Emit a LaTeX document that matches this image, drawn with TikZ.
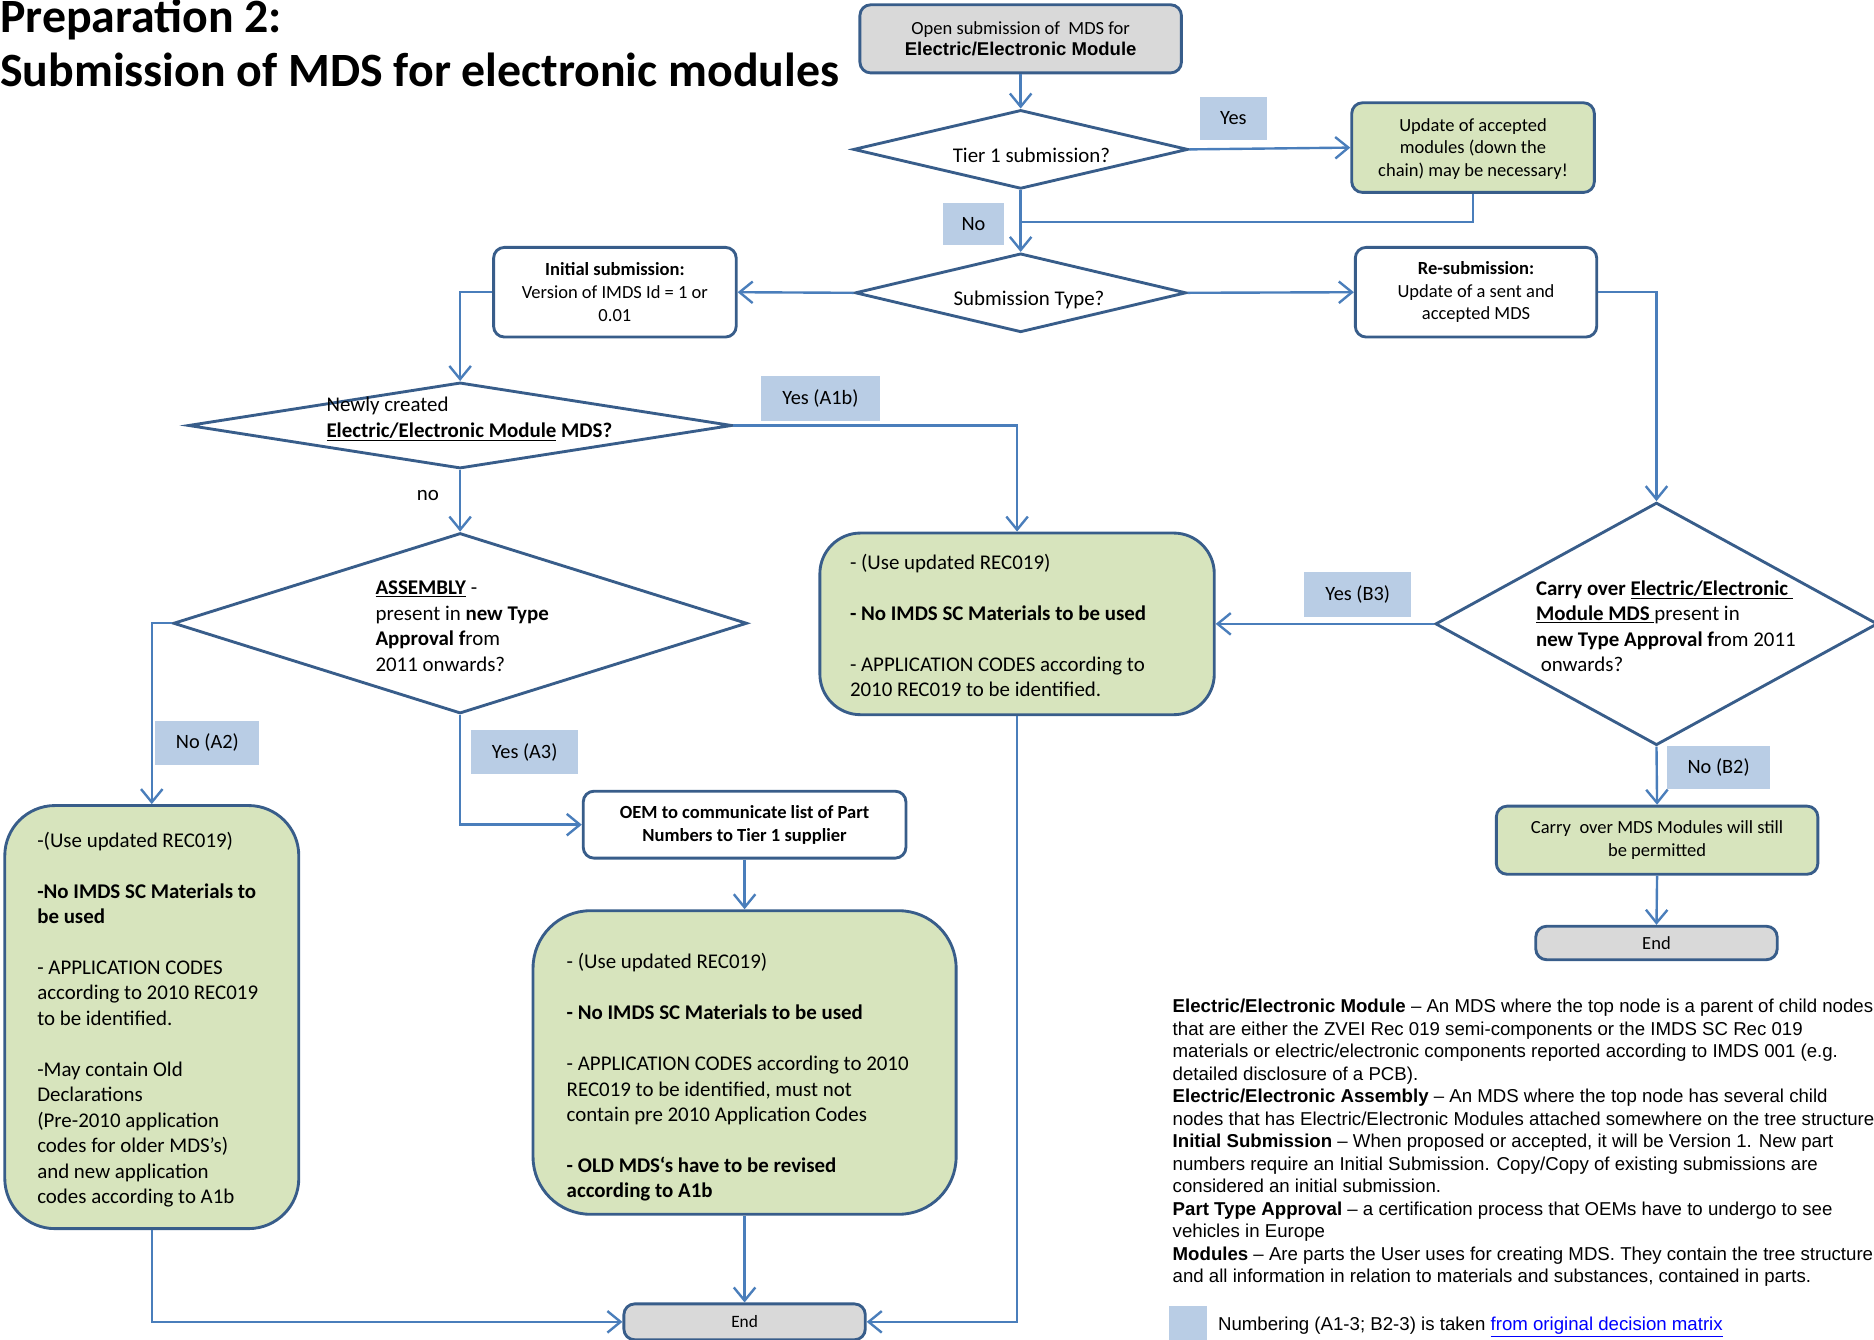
\documentclass[tikz,border=0pt]{standalone}
\usepackage{fontspec}
\setmainfont{Carlito}
\newfontfamily\arialfont{Liberation Sans}
\usetikzlibrary{arrows.meta,shapes.geometric}
\definecolor{linec}{HTML}{4A7EBB}
\definecolor{borderc}{HTML}{385D8A}
\definecolor{greenf}{HTML}{D7E4BD}
\definecolor{grayf}{HTML}{D9D9D9}
\definecolor{labelf}{HTML}{B9CDE5}
\definecolor{linkc}{HTML}{0000FF}
\tikzset{
 conn/.style={draw=linec, line width=2pt, -{Straight Barb[length=11pt,width=18pt,line width=2pt]}},
 cline/.style={draw=linec, line width=2pt},
 rbox/.style={rectangle, rounded corners=9pt, draw=borderc, line width=2.4pt, fill=white, inner sep=0pt, align=center, font=\fontsize{15.5}{19}\selectfont},
 greenbox/.style={rbox, fill=greenf},
 graybox/.style={rbox, fill=grayf},
 decision/.style={diamond, draw=borderc, line width=2.4pt, fill=white, inner sep=0pt},
 lab/.style={rectangle, fill=labelf, inner sep=0pt, font=\fontsize{17}{20}\selectfont},
 txt/.style={inner sep=0pt, align=left, font=\fontsize{17.5}{21.3}\selectfont},
}
\begin{document}
\begin{tikzpicture}[x=1pt,y=-1pt]
\useasboundingbox (0,0) rectangle (1568,1121);

% title
\node[anchor=base west, inner sep=0pt, font=\fontsize{40}{48}\selectfont\bfseries] (title1) at (0,27) {Preparation 2:};
\node[anchor=base west, inner sep=0pt, font=\fontsize{40}{48}\selectfont\bfseries] (title2) at (0,72) {Submission of MDS for electronic modules};

% boxes
\node[graybox, minimum width=269pt, minimum height=57pt] (start) at (854,32.5) {Open submission of\ \ MDS for\\[-1pt]{\arialfont\bfseries Electric/Electronic Module}};
\node[decision, minimum width=280pt, minimum height=66pt] (d1) at (854,125) {};
\node[txt] (t1) at (863,130) {Tier 1 submission?};
\node[greenbox, minimum width=203pt, minimum height=75pt] (upd) at (1232.5,123.5) {\\[-6pt]Update of accepted\\modules (down the\\chain) may be necessary!};
\node[decision, minimum width=277pt, minimum height=66pt] (d2) at (854,245) {};
\node[txt] (t2) at (861,251) {Submission Type?};
\node[rbox, minimum width=203pt, minimum height=75pt] (init) at (514.5,244.5) {\textbf{Initial submission:}\\Version of IMDS Id = 1 or\\0.01};
\node[rbox, minimum width=202pt, minimum height=75pt] (resub) at (1235,244.5) {\textbf{Re-submission:}\\Update of a sent and\\accepted MDS};

\node[decision, minimum width=455pt, minimum height=72pt] (d3) at (385,356) {};
\node[txt, anchor=west] (t3) at (273,350.5) {Newly created\\\textbf{\underline{Electric/Electronic Module}~MDS?}};
\node[decision, minimum width=480pt, minimum height=151pt] (d4) at (385,521.5) {};
\node[txt, anchor=west] (t4) at (314,524) {\textbf{\underline{ASSEMBLY}} -\\present in \textbf{new Type}\\\textbf{Approval f}rom\\2011 onwards?};

\node[greenbox, rounded corners=34pt, minimum width=330pt, minimum height=152pt] (a1b) at (851,522) {};
\node[txt, anchor=west] (a1bt) at (711,523.5) {- (Use updated REC019)\\[21.3pt]\textbf{- No IMDS SC Materials to be used}\\[21.3pt]- APPLICATION CODES according to\\2010 REC019 to be identified.};

\node[decision, minimum width=370pt, minimum height=203pt] (d5) at (1386,522) {};
\node[txt, anchor=west] (t5) at (1285,524) {\textbf{Carry over \underline{Electric/Electronic\ }}\\\textbf{\underline{Module MDS\ }}present in\\\textbf{new Type Approval f}rom 2011\\\ onwards?};

\node[greenbox, minimum width=269pt, minimum height=57pt] (carry) at (1386.5,703) {Carry\ \ over MDS Modules will still\\be permitted};
\node[graybox, minimum width=202pt, minimum height=28pt] (end2) at (1386,789) {End};

\node[rbox, minimum width=270pt, minimum height=56pt, font=\fontsize{15.5}{19}\selectfont\bfseries] (oem) at (623,690) {OEM to communicate list of Part\\Numbers to Tier 1 supplier};

\node[greenbox, rounded corners=42pt, minimum width=246pt, minimum height=354pt] (a2) at (127,851) {};
\node[txt, anchor=west] (a2t) at (31,853) {-(Use updated REC019)\\[21.3pt]\textbf{-No IMDS SC Materials to}\\\textbf{be used}\\[21.3pt]- APPLICATION CODES\\according to 2010 REC019\\to be identified.\\[21.3pt]-May contain Old\\Declarations\\(Pre-2010 application\\codes for older MDS's)\\and new application\\codes according to A1b};

\node[greenbox, rounded corners=48pt, minimum width=354pt, minimum height=254pt] (a3) at (623,889) {};
\node[txt, anchor=west] (a3t) at (474,901.5) {- (Use updated REC019)\\[21.3pt]\textbf{- No IMDS SC Materials to be used}\\[21.3pt]- APPLICATION CODES according to 2010\\REC019 to be identified, must not\\contain pre 2010 Application Codes\\[21.3pt]\textbf{- OLD MDS‘s have to be revised}\\\textbf{according to A1b}};

\node[graybox, minimum width=202pt, minimum height=30pt, font=\fontsize{14.5}{17}\selectfont] (end1) at (623,1106) {End};

% connectors
\coordinate (j1) at (854,186);
\draw[conn] (start.south) -- (d1.north);
\draw[conn] (d1.east) -- (upd.west);
\draw[conn] (d1.south) -- (d2.north);
\draw[cline] (upd.south) |- (j1);
\draw[conn] (d2.west) -- (init.east);
\draw[conn] (d2.east) -- (resub.west);
\draw[conn] (init.west) -| (d3.north);
\draw[conn] (d3.east) -| (a1b.north);
\draw[conn] (d3.south) -- (d4.north);
\draw[conn] (d4.west) -| (a2.north);
\draw[conn] (d4.south) |- (oem.west);
\draw[conn] (oem.south) -- (a3.north);
\draw[conn] (a3.south) -- (end1.north);
\draw[conn] (a2.south) |- (end1.west);
\draw[conn] (a1b.south) |- (end1.east);
\draw[conn] (resub.east) -| (d5.north);
\draw[conn] (d5.west) -- (a1b.east);
\draw[conn] (d5.south) -- (carry.north);
\draw[conn] (carry.south) -- (end2.north);

% labels
\node[lab, minimum width=56pt, minimum height=36pt] (lyes1) at (1032,99) {Yes};
\node[lab, minimum width=51pt, minimum height=35pt] (lno1) at (814.5,187.5) {No};
\node[lab, minimum width=99pt, minimum height=37pt] (la1b) at (686.5,333.5) {Yes (A1b)};
\node[txt] (lno) at (358,415) {no};
\node[lab, minimum width=87pt, minimum height=37pt] (la2) at (173.5,621.5) {No (A2)};
\node[lab, minimum width=90pt, minimum height=37pt] (la3) at (439,629.5) {Yes (A3)};
\node[lab, minimum width=90pt, minimum height=37pt] (lb3) at (1136,497.5) {Yes (B3)};
\node[lab, minimum width=86pt, minimum height=36pt] (lb2) at (1438,642) {No (B2)};

% legend
\node[anchor=north west, inner sep=0pt, align=left, font=\arialfont\fontsize{15.6}{18.8}\selectfont] (legend) at (981,836) {\textbf{Electric/Electronic Module} – An MDS where the top node is a parent of child nodes\\that are either the ZVEI Rec 019 semi-components or the IMDS SC Rec 019\\materials or electric/electronic components reported according to IMDS 001 (e.g.\\detailed disclosure of a PCB).\\\textbf{Electric/Electronic Assembly} – An MDS where the top node has several child\\nodes that has Electric/Electronic Modules attached somewhere on the tree structure\\\textbf{Initial Submission} – When proposed or accepted, it will be Version 1. New part\\numbers require an Initial Submission. Copy/Copy of existing submissions are\\considered an initial submission.\\\textbf{Part Type Approval} – a certification process that OEMs have to undergo to see\\vehicles in Europe\\\textbf{Modules} – Are parts the User uses for creating MDS. They contain the tree structure\\and all information in relation to materials and substances, contained in parts.};
\node[fill=labelf, minimum width=32pt, minimum height=30pt, inner sep=0pt] (key) at (994,1108) {};
\node[anchor=west, inner sep=0pt, font=\arialfont\fontsize{15.6}{18}\selectfont] (keytxt) at (1019,1110) {Numbering (A1-3; B2-3) is taken \textcolor{linkc}{\underline{from original decision matrix}}};
\end{tikzpicture}
\end{document}
